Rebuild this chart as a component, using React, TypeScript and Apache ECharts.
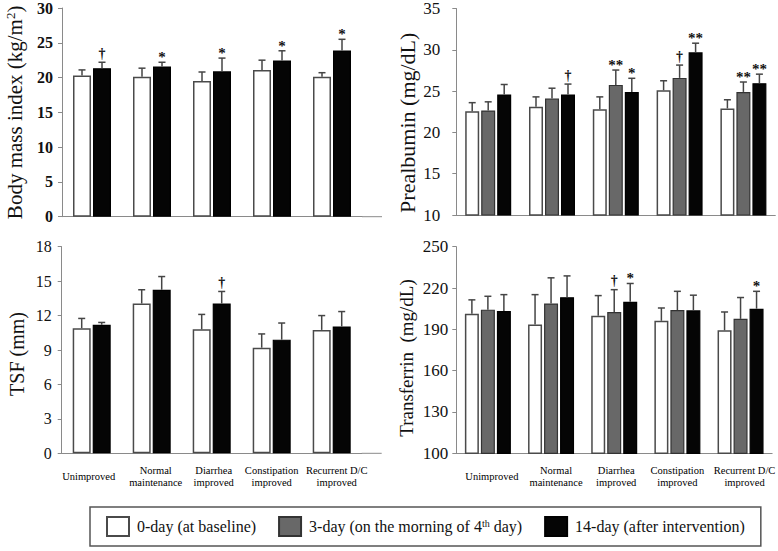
import React, { useEffect, useRef } from "react";
import * as echarts from "echarts";

// ---------- data ----------
const CATEGORIES = [
  "Unimproved",
  "Normal\nmaintenance",
  "Diarrhea\nimproved",
  "Constipation\nimproved",
  "Recurrent D/C\nimproved",
];

const S0 = "0-day (at baseline)";
const S3 = "3-day (on the morning of 4th day)";
const S14 = "14-day (after intervention)";

// Body mass index (kg/m2)
const BMI_D0 = [20.3, 20.1, 19.5, 21.1, 20.1];
const BMI_D0_SD = [0.8, 1.25, 1.3, 1.4, 0.6];
const BMI_D14 = [21.35, 21.6, 20.9, 22.45, 23.9];
const BMI_D14_SD = [0.85, 0.6, 1.9, 1.4, 1.6];
const BMI_D0_SIG = ["", "", "", "", ""];
const BMI_D14_SIG = ["†", "*", "*", "*", "*"];

// Prealbumin (mg/dL)
const PRE_D0 = [22.55, 23.1, 22.8, 25.1, 22.9];
const PRE_D0_SD = [1.05, 1.2, 1.5, 1.15, 1.05];
const PRE_D3 = [22.65, 24.1, 25.75, 26.6, 24.9];
const PRE_D3_SD = [1.05, 1.25, 1.8, 1.55, 1.2];
const PRE_D14 = [24.6, 24.6, 24.9, 29.7, 25.95];
const PRE_D14_SD = [1.2, 1.25, 1.65, 1.1, 1.1];
const PRE_D0_SIG = ["", "", "", "", ""];
const PRE_D3_SIG = ["", "", "**", "†", "**"];
const PRE_D14_SIG = ["", "†", "*", "**", "**"];

// TSF (mm)
const TSF_D0 = [10.9, 13.05, 10.8, 9.2, 10.75];
const TSF_D0_SD = [0.85, 1.2, 1.3, 1.2, 1.25];
const TSF_D14 = [11.2, 14.25, 13.05, 9.9, 11.05];
const TSF_D14_SD = [0.2, 1.15, 1.05, 1.45, 1.3];
const TSF_D0_SIG = ["", "", "", "", ""];
const TSF_D14_SIG = ["", "", "†", "", ""];

// Transferrin (mg/dL)
const TRF_D0 = [201.4, 193.6, 199.8, 196.2, 189.3];
const TRF_D0_SD = [10, 21.6, 14.7, 9.3, 13.3];
const TRF_D3 = [204.3, 208.8, 202.6, 204, 197.6];
const TRF_D3_SD = [9.7, 18.6, 16.2, 13.6, 15.5];
const TRF_D14 = [203.3, 213.3, 210, 203.8, 205];
const TRF_D14_SD = [11.9, 15.5, 13.3, 11, 12.6];
const TRF_D0_SIG = ["", "", "", "", ""];
const TRF_D3_SIG = ["", "", "†", "", ""];
const TRF_D14_SIG = ["", "", "*", "", "*"];

// tick labels
const BMI_TICKS = [0, 5, 10, 15, 20, 25, 30];
const PRE_TICKS = [10, 15, 20, 25, 30, 35];
const TSF_TICKS = [0, 3, 6, 9, 12, 15, 18];
const TRF_TICKS = [100, 130, 160, 190, 220, 250];

// ---------- styling ----------
const FONT = '"Liberation Serif", "Times New Roman", serif';
const AXIS_COLOR = "#8a8a8a";
const ERR_COLOR = "#454545";

const STYLE: Record<string, any> = {
  [S0]: { color: "#ffffff", borderColor: "#4a4a4a", borderWidth: 1.5 },
  [S3]: { color: "#686868", borderColor: "#333333", borderWidth: 1.2 },
  [S14]: { color: "#050505", borderColor: "#000000", borderWidth: 1.2 },
};

type SeriesDef = { name: string; values: number[]; sd: number[]; sig: string[] };
type PanelDef = {
  grid: { left: number; top: number; width: number; height: number };
  ticks: number[];
  title: string;
  titleSize: number;
  titleGap: number;
  titlePad: number[];
  labelSize: number;
  labelBold: boolean;
  labelMargin: number;
  showCats: boolean;
  catShift: number[]; // small horizontal nudges of category labels (px)
  barWidth: number;
  series: SeriesDef[];
};

const PANELS: PanelDef[] = [
  {
    grid: { left: 62, top: 7.3, width: 300, height: 209.4 },
    ticks: BMI_TICKS,
    title: "Body mass index (kg/m{sup|2})",
    titleSize: 21,
    titleGap: 37,
    titlePad: [0, 0, 0, 0],
    labelSize: 16,
    labelBold: true,
    labelMargin: 9,
    showCats: false,
    catShift: [0, 0, 0, 0, 0],
    barWidth: 18,
    series: [
      { name: S0, values: BMI_D0, sd: BMI_D0_SD, sig: BMI_D0_SIG },
      { name: S14, values: BMI_D14, sd: BMI_D14_SD, sig: BMI_D14_SIG },
    ],
  },
  {
    grid: { left: 456.3, top: 8.3, width: 319, height: 206.7 },
    ticks: PRE_TICKS,
    title: "Prealbumin (mg/dL)",
    titleSize: 22,
    titleGap: 38,
    titlePad: [0, 22, 0, 0],
    labelSize: 17,
    labelBold: false,
    labelMargin: 16,
    showCats: false,
    catShift: [0, 0, 0, 0, 0],
    barWidth: 14,
    series: [
      { name: S0, values: PRE_D0, sd: PRE_D0_SD, sig: PRE_D0_SIG },
      { name: S3, values: PRE_D3, sd: PRE_D3_SD, sig: PRE_D3_SIG },
      { name: S14, values: PRE_D14, sd: PRE_D14_SD, sig: PRE_D14_SIG },
    ],
  },
  {
    grid: { left: 61.7, top: 246.7, width: 300, height: 206.6 },
    ticks: TSF_TICKS,
    title: "TSF (mm)",
    titleSize: 20,
    titleGap: 35,
    titlePad: [0, 8, 0, 0],
    labelSize: 16,
    labelBold: false,
    labelMargin: 10,
    showCats: true,
    catShift: [-3, 4, 2, 0, 5],
    barWidth: 18,
    series: [
      { name: S0, values: TSF_D0, sd: TSF_D0_SD, sig: TSF_D0_SIG },
      { name: S14, values: TSF_D14, sd: TSF_D14_SD, sig: TSF_D14_SIG },
    ],
  },
  {
    grid: { left: 456.3, top: 246.7, width: 319, height: 206.6 },
    ticks: TRF_TICKS,
    title: "Transferrin  (mg/dL)",
    titleSize: 19,
    titleGap: 40,
    titlePad: [0, 16, 0, 0],
    labelSize: 17,
    labelBold: false,
    labelMargin: 8,
    showCats: true,
    catShift: [4, 5, 2, 0, 4],
    barWidth: 14,
    series: [
      { name: S0, values: TRF_D0, sd: TRF_D0_SD, sig: TRF_D0_SIG },
      { name: S3, values: TRF_D3, sd: TRF_D3_SD, sig: TRF_D3_SIG },
      { name: S14, values: TRF_D14, sd: TRF_D14_SD, sig: TRF_D14_SIG },
    ],
  },
];

const BAR_GAP_PX = 2;
const CAT_FONT_SIZE = 10.5;

function catRich() {
  const rich: Record<string, any> = {};
  for (let s = -6; s <= 6; s++) {
    const key = "c" + (s < 0 ? "m" + -s : "p" + s);
    rich[key] = {
      fontFamily: FONT,
      fontSize: CAT_FONT_SIZE,
      color: "#000",
      lineHeight: 12,
      padding: s >= 0 ? [0, 0, 0, 2 * s] : [0, -2 * s, 0, 0],
    };
  }
  return rich;
}

function buildOption() {
  const grid: any[] = [];
  const xAxis: any[] = [];
  const yAxis: any[] = [];
  const series: any[] = [];

  PANELS.forEach((p, pi) => {
    grid.push({ ...p.grid });
    xAxis.push({
      type: "category",
      gridIndex: pi,
      data: CATEGORIES,
      axisLine: { show: true, lineStyle: { color: AXIS_COLOR, width: 1 } },
      axisTick: { show: false },
      axisLabel: {
        show: p.showCats,
        interval: 0,
        fontFamily: FONT,
        fontSize: CAT_FONT_SIZE,
        color: "#000",
        lineHeight: 12,
        verticalAlign: "middle",
        margin: 23,
        rich: catRich(),
        formatter: (val: string, idx: number) => {
          const s = Math.round(p.catShift[idx] || 0);
          const key = "c" + (s < 0 ? "m" + -s : "p" + s);
          return val
            .split("\n")
            .map((line) => `{${key}|${line}}`)
            .join("\n");
        },
      },
    });
    const min = p.ticks[0];
    const max = p.ticks[p.ticks.length - 1];
    yAxis.push({
      type: "value",
      gridIndex: pi,
      min,
      max,
      axisLine: { show: true, lineStyle: { color: AXIS_COLOR, width: 1 } },
      axisTick: {
        show: true,
        length: 4,
        lineStyle: { color: AXIS_COLOR },
        customValues: p.ticks,
      },
      splitLine: { show: false },
      axisLabel: {
        customValues: p.ticks,
        fontFamily: FONT,
        fontSize: p.labelSize,
        fontWeight: p.labelBold ? "bold" : "normal",
        color: "#111",
        margin: p.labelMargin,
      },
      name: p.title,
      nameLocation: "middle",
      nameGap: p.titleGap,
      nameTextStyle: {
        fontFamily: FONT,
        fontSize: p.titleSize,
        color: "#111",
        padding: p.titlePad,
        rich: {
          sup: {
            fontFamily: FONT,
            fontSize: 13,
            color: "#111",
            verticalAlign: "top",
            lineHeight: 13,
          },
        },
      },
    });

    const n = p.series.length;
    const step = p.barWidth + BAR_GAP_PX;
    p.series.forEach((s, si) => {
      const st = STYLE[s.name];
      series.push({
        type: "bar",
        name: s.name,
        xAxisIndex: pi,
        yAxisIndex: pi,
        data: s.values,
        barWidth: p.barWidth,
        barGap: `${(BAR_GAP_PX / p.barWidth) * 100}%`,
        itemStyle: { ...st },
        emphasis: { disabled: true },
      });
      const offset = (si - (n - 1) / 2) * step;
      series.push({
        type: "custom",
        xAxisIndex: pi,
        yAxisIndex: pi,
        z: 5,
        data: s.values.map((v, i) => [i, v, s.sd[i]]),
        renderItem: (params: any, api: any) => {
          const idx = api.value(0);
          const v = api.value(1);
          const e = api.value(2);
          const base = api.coord([idx, v]);
          const top = api.coord([idx, v + e]);
          const x = base[0] + offset;
          const children: any[] = [
            {
              type: "line",
              shape: { x1: x, y1: base[1], x2: x, y2: top[1] },
              style: { stroke: ERR_COLOR, lineWidth: 1.5 },
            },
            {
              type: "line",
              shape: { x1: x - 3.5, y1: top[1], x2: x + 3.5, y2: top[1] },
              style: { stroke: ERR_COLOR, lineWidth: 1.5 },
            },
          ];
          const mark = s.sig[params.dataIndex];
          if (mark) {
            const isStar = mark.indexOf("*") >= 0;
            children.push({
              type: "text",
              style: {
                text: mark,
                x,
                y: top[1] - (isStar ? 5 : 9),
                align: "center",
                verticalAlign: "middle",
                fontFamily: FONT,
                fontSize: isStar ? 15 : 14,
                fontWeight: "bold",
                fill: "#111",
              },
            });
          }
          return { type: "group", children };
        },
      });
    });
  });

  // extend the x-axis line of the left panels (decoration)
  const graphic: any[] = [];
  [PANELS[0], PANELS[2]].forEach((p) => {
    const y = p.grid.top + p.grid.height;
    const x0 = p.grid.left + p.grid.width;
    graphic.push({
      type: "line",
      shape: { x1: x0, y1: y, x2: x0 + 20, y2: y },
      style: { stroke: AXIS_COLOR, lineWidth: 1 },
      silent: true,
    });
  });

  return {
    animation: false,
    backgroundColor: "#ffffff",
    grid,
    xAxis,
    yAxis,
    series,
    graphic,
    legend: {
      data: [S0, S3, S14],
      left: 90,
      top: 507,
      width: 720,
      orient: "horizontal",
      padding: [9, 16, 9, 16],
      borderColor: "#555",
      borderWidth: 1.5,
      itemGap: 22,
      itemWidth: 22,
      itemHeight: 19,
      selectedMode: false,
      icon: "rect",
      textStyle: {
        fontFamily: FONT,
        fontSize: 16,
        color: "#111",
        padding: [0, 0, 0, 3],
        rich: {
          n: { fontFamily: FONT, fontSize: 16, color: "#111" },
          sup: { fontFamily: FONT, fontSize: 10, color: "#111", verticalAlign: "top", lineHeight: 10 },
        },
      },
      formatter: (name: string) =>
        name === S3 ? "{n|3-day (on the morning of 4}{sup|th}{n| day)}" : `{n|${name}}`,
    },
  };
}

export default function App() {
  const ref = useRef<HTMLDivElement>(null);
  useEffect(() => {
    if (!ref.current) return;
    const chart = echarts.init(ref.current, undefined, { renderer: "svg" });
    chart.setOption(buildOption() as any);
    return () => chart.dispose();
  }, []);
  return (
    <div
      ref={ref}
      style={{ position: "fixed", left: 0, top: 0, width: 778, height: 551, background: "#fff" }}
    />
  );
}
